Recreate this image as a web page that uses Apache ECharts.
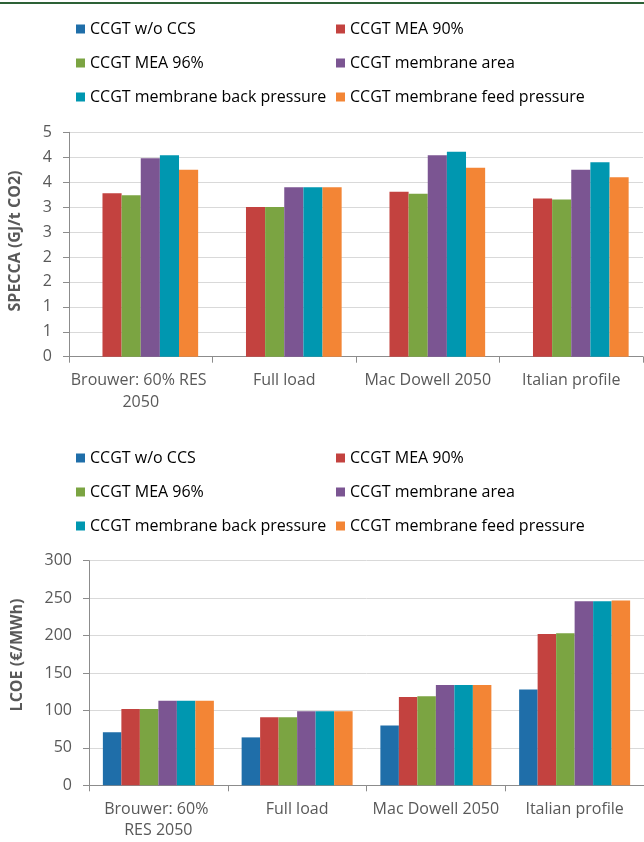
<!DOCTYPE html>
<html>
<head>
<meta charset="utf-8">
<script src="https://cdn.jsdelivr.net/npm/echarts@6/dist/echarts.min.js"></script>
<style>
  html, body { margin: 0; padding: 0; background: #fff; }
  #chart { width: 644px; height: 842px; }
</style>
</head>
<body>
<div id="chart"></div>
<script>
// Scenarios on the x axis
const categories = ['Brouwer: 60% RES 2050', 'Full load', 'Mac Dowell 2050', 'Italian profile'];

// Plant configurations
const seriesNames = [
  'CCGT w/o CCS',
  'CCGT MEA 90%',
  'CCGT MEA 96%',
  'CCGT membrane area',
  'CCGT membrane back pressure',
  'CCGT membrane feed pressure'
];
const seriesColors = ['#1f6ea9', '#c3423f', '#7ba442', '#7b5592', '#0097b0', '#f38535'];

// SPECCA (GJ/t CO2) – no capture, so no value for the reference plant
const speccaWoCCS      = [null, null, null, null];
const speccaMEA90      = [3.28, 3.00, 3.31, 3.17];
const speccaMEA96      = [3.24, 3.00, 3.27, 3.15];
const speccaMemArea    = [3.98, 3.40, 4.04, 3.75];
const speccaMemBack    = [4.04, 3.40, 4.11, 3.90];
const speccaMemFeed    = [3.75, 3.40, 3.79, 3.60];

// LCOE (€/MWh)
const lcoeWoCCS   = [71, 64, 80, 128];
const lcoeMEA90   = [102, 91, 118, 202];
const lcoeMEA96   = [102, 91, 119, 203];
const lcoeMemArea = [113, 99, 134, 246];
const lcoeMemBack = [113, 99, 134, 246];
const lcoeMemFeed = [113, 99, 134, 247];

const speccaData = [speccaWoCCS, speccaMEA90, speccaMEA96, speccaMemArea, speccaMemBack, speccaMemFeed];
const lcoeData = [lcoeWoCCS, lcoeMEA90, lcoeMEA96, lcoeMemArea, lcoeMemBack, lcoeMemFeed];

const FONT = 'Open Sans';
const TEXT = '#595959';
const AXIS = '#8c8c8c';
const GRID = '#d9d9d9';

function legendColumn(names, left, top) {
  return {
    orient: 'vertical',
    left: left,
    top: top,
    padding: 0,
    itemWidth: 9,
    itemHeight: 9,
    itemGap: 14,
    icon: 'rect',
    data: names,
    selectedMode: false,
    textStyle: { fontFamily: FONT, fontSize: 16, color: '#000', lineHeight: 20 }
  };
}

function xAxisFor(gridIndex, labelWidth) {
  return {
    type: 'category',
    gridIndex: gridIndex,
    data: categories,
    axisLine: { lineStyle: { color: AXIS, width: 1 } },
    axisTick: { show: true, length: 6, lineStyle: { color: AXIS } },
    axisLabel: {
      fontFamily: FONT, fontSize: 16, color: TEXT, margin: 13,
      lineHeight: 21.5, width: labelWidth, overflow: 'break', interval: 0
    }
  };
}

function yAxisFor(gridIndex, max, interval, fmt) {
  return {
    type: 'value',
    gridIndex: gridIndex,
    min: 0, max: max, interval: interval,
    axisLine: { show: true, lineStyle: { color: AXIS, width: 1 } },
    axisTick: { show: true, length: 6, lineStyle: { color: AXIS } },
    splitLine: { lineStyle: { color: GRID, width: 1 } },
    axisLabel: { fontFamily: FONT, fontSize: 16, color: TEXT, margin: 17, formatter: fmt }
  };
}

const series = [];
seriesNames.forEach((name, i) => {
  series.push({
    name: name, type: 'bar', xAxisIndex: 0, yAxisIndex: 0,
    data: speccaData[i], barGap: '0%', barCategoryGap: '20%',
    itemStyle: { color: seriesColors[i] }
  });
});
seriesNames.forEach((name, i) => {
  series.push({
    name: name, type: 'bar', xAxisIndex: 1, yAxisIndex: 1,
    data: lcoeData[i], barGap: '0%', barCategoryGap: '20%',
    itemStyle: { color: seriesColors[i] }
  });
});

const leftCol = [seriesNames[0], seriesNames[2], seriesNames[4]];
const rightCol = [seriesNames[1], seriesNames[3], seriesNames[5]];

const chart = echarts.init(document.getElementById('chart'), null, { renderer: 'canvas' });
chart.setOption({
  animation: false,
  color: seriesColors,
  legend: [
    legendColumn(leftCol, 76, 19),
    legendColumn(rightCol, 336, 19),
    legendColumn(leftCol, 76, 448),
    legendColumn(rightCol, 336, 448)
  ],
  grid: [
    { left: 69, top: 132.3, width: 576, height: 224.4 },
    { left: 89, top: 560.7, width: 559, height: 224.6 }
  ],
  xAxis: [xAxisFor(0, 140), xAxisFor(1, 130)],
  yAxis: [
    yAxisFor(0, 4.5, 0.5, v => String(Math.round(v))),
    yAxisFor(1, 300, 50, v => String(v))
  ],
  series: series,
  graphic: [
    { type: 'rect', left: 0, top: 2, shape: { width: 644, height: 2 }, style: { fill: '#2d6136' } },
    {
      type: 'text', x: 15, y: 241, rotation: Math.PI / 2,
      style: { text: 'SPECCA (GJ/t CO2)', fontFamily: FONT, fontSize: 16, fontWeight: 'bold',
               fill: TEXT, align: 'center', verticalAlign: 'middle' }
    },
    {
      type: 'text', x: 17, y: 655, rotation: Math.PI / 2,
      style: { text: 'LCOE (€/MWh)', fontFamily: FONT, fontSize: 16, fontWeight: 'bold',
               fill: TEXT, align: 'center', verticalAlign: 'middle' }
    }
  ]
});
</script>
</body>
</html>
